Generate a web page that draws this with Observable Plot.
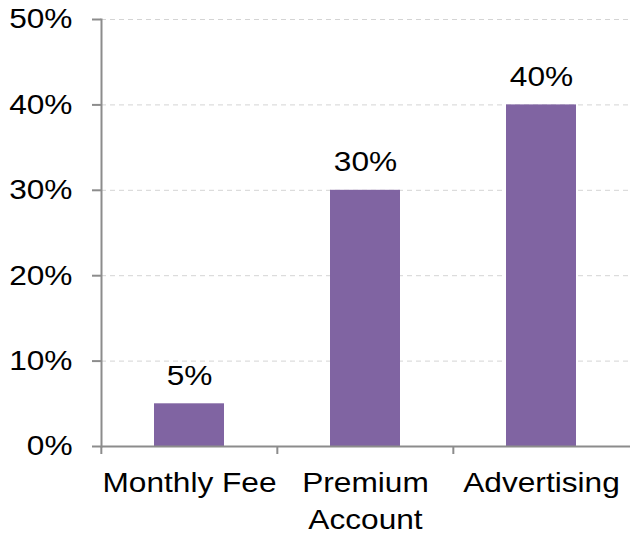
<!DOCTYPE html>
<html>
<head>
<meta charset="utf-8">
<script src="https://cdn.jsdelivr.net/npm/d3@7"></script>
<script src="https://cdn.jsdelivr.net/npm/@observablehq/plot@0.6"></script>
<style>
  html, body { margin: 0; padding: 0; background: #fff; }
  #chart svg { display: block; }
</style>
</head>
<body>
<div id="chart"></div>
<script>
const categories = ["Monthly Fee", "Premium\nAccount", "Advertising"];
const values = [0.05, 0.30, 0.40];
const valueLabels = ["5%", "30%", "40%"];
const yTicks = [0, 0.1, 0.2, 0.3, 0.4, 0.5];
const yTickLabels = ["0%", "10%", "20%", "30%", "40%", "50%"];

const data = categories.map((c, i) => ({category: c, value: values[i], label: valueLabels[i]}));

const W = 630, H = 533, mL = 101, mR = 0, mT = 19, mB = 87;
const step = (W - mL - mR) / categories.length;
const font = "'Liberation Sans', Arial, sans-serif";
const axisColor = "#8c8c8c";

const chart = Plot.plot({
  width: W,
  height: H,
  marginLeft: mL,
  marginRight: mR,
  marginTop: mT,
  marginBottom: mB,
  style: {fontFamily: font, fontSize: "28px", color: "#000", background: "#fff", overflow: "visible"},
  x: {domain: categories, paddingInner: 0.6, paddingOuter: 0.3, label: null},
  y: {domain: [0, 0.5], label: null},
  marks: [
    Plot.gridY(yTicks.filter(d => d > 0), {stroke: "#d4d4d4", strokeOpacity: 1, strokeWidth: 1, strokeDasharray: "5,4"}),
    Plot.barY(data, {x: "category", y: "value", fill: "#8064A2"}),
    Plot.text(data, {x: "category", y: "value", text: "label", dy: -19, lineAnchor: "bottom", fill: "#000", fontSize: 28}),
    Plot.axisY({ticks: yTicks, tickFormat: (d) => yTickLabels[yTicks.indexOf(d)], tickSize: 9, tickPadding: 20, stroke: axisColor, strokeWidth: 2, fill: "#000", label: null}),
    Plot.axisX({tickSize: 0, tickPadding: 20, lineHeight: 1.3, fill: "#000", label: null}),
    Plot.ruleX(categories, {x: d => d, dx: -step / 2, insetTop: H - mT - mB, insetBottom: -8, stroke: axisColor, strokeWidth: 2}),
    Plot.frame({anchor: "left", stroke: axisColor, strokeWidth: 2}),
    Plot.ruleY([0], {stroke: axisColor, strokeWidth: 2})
  ]
});
document.getElementById("chart").appendChild(chart);

// The reference's lettering is slightly wider than Arial metrics: stretch glyphs horizontally.
const stretch = 1.13;
chart.querySelectorAll("text").forEach(t => {
  const spans = t.querySelectorAll("tspan");
  const targets = spans.length ? Array.from(spans) : [t];
  targets.forEach(el => {
    const len = el.getComputedTextLength();
    if (len > 0) {
      el.setAttribute("textLength", (len * stretch).toFixed(2));
      el.setAttribute("lengthAdjust", "spacingAndGlyphs");
    }
  });
});
</script>
</body>
</html>
